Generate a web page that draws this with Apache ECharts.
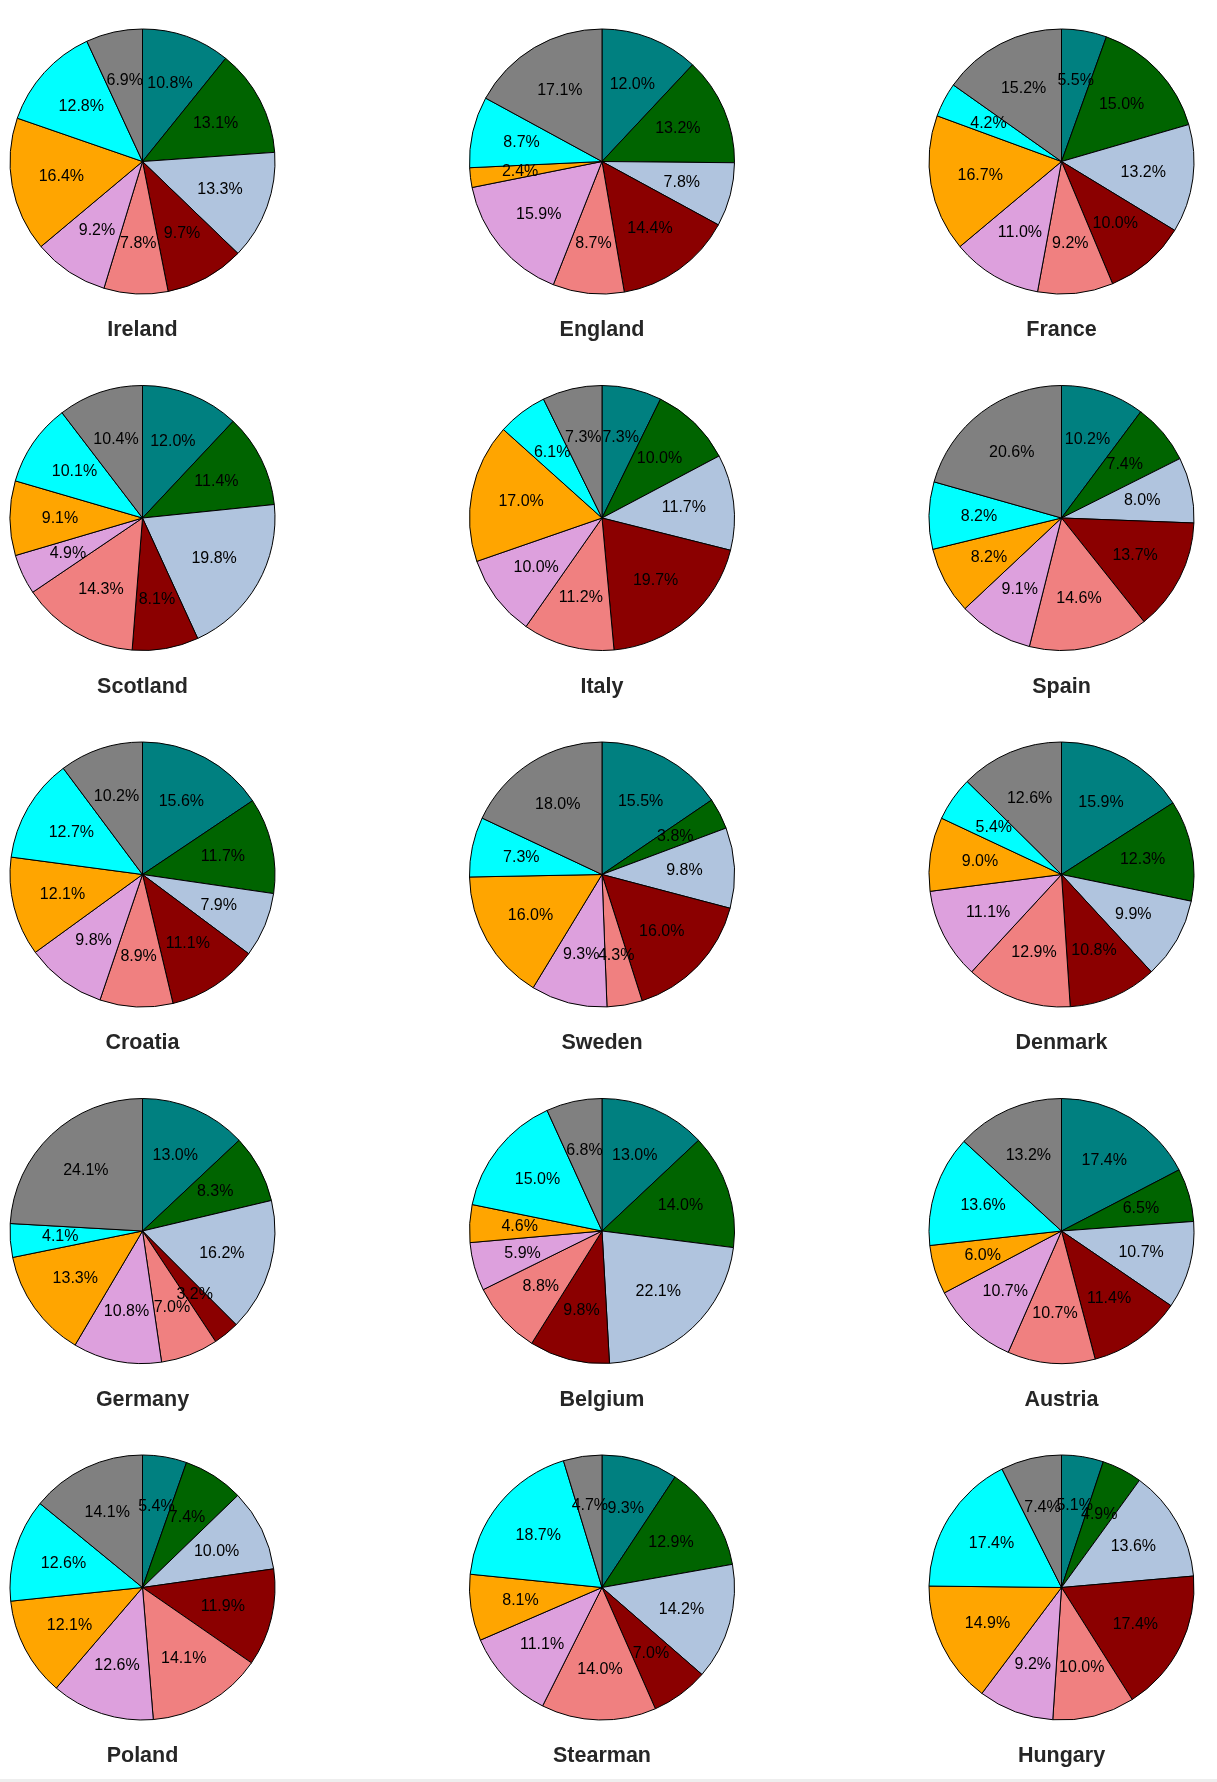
<!DOCTYPE html>
<html><head><meta charset="utf-8">
<script src="https://cdn.jsdelivr.net/npm/echarts@6/dist/echarts.min.js"></script>
<style>html,body{margin:0;padding:0;background:#eeeeee;} #c{width:1217px;height:1779px;background:#ffffff;}</style>
</head><body><div id="c"></div>
<script>
// slice order is clockwise from 12 o'clock
const sliceColors = ['#008080','#006400','#B0C4DE','#8B0000','#F08080','#DDA0DD','#FFA500','#00FFFF','#808080'];
const countries = ['Ireland','England','France','Scotland','Italy','Spain','Croatia','Sweden','Denmark','Germany','Belgium','Austria','Poland','Stearman','Hungary'];
const ireland  = [10.8, 13.1, 13.3, 9.7, 7.8, 9.2, 16.4, 12.8, 6.9];
const england  = [12.0, 13.2, 7.8, 14.4, 8.7, 15.9, 2.4, 8.7, 17.1];
const france   = [5.5, 15.0, 13.2, 10.0, 9.2, 11.0, 16.7, 4.2, 15.2];
const scotland = [12.0, 11.4, 19.8, 8.1, 14.3, 4.9, 9.1, 10.1, 10.4];
const italy    = [7.3, 10.0, 11.7, 19.7, 11.2, 10.0, 17.0, 6.1, 7.3];
const spain    = [10.2, 7.4, 8.0, 13.7, 14.6, 9.1, 8.2, 8.2, 20.6];
const croatia  = [15.6, 11.7, 7.9, 11.1, 8.9, 9.8, 12.1, 12.7, 10.2];
const sweden   = [15.5, 3.8, 9.8, 16.0, 4.3, 9.3, 16.0, 7.3, 18.0];
const denmark  = [15.9, 12.3, 9.9, 10.8, 12.9, 11.1, 9.0, 5.4, 12.6];
const germany  = [13.0, 8.3, 16.2, 3.2, 7.0, 10.8, 13.3, 4.1, 24.1];
const belgium  = [13.0, 14.0, 22.1, 9.8, 8.8, 5.9, 4.6, 15.0, 6.8];
const austria  = [17.4, 6.5, 10.7, 11.4, 10.7, 10.7, 6.0, 13.6, 13.2];
const poland   = [5.4, 7.4, 10.0, 11.9, 14.1, 12.6, 12.1, 12.6, 14.1];
const stearman = [9.3, 12.9, 14.2, 7.0, 14.0, 11.1, 8.1, 18.7, 4.7];
const hungary  = [5.1, 4.9, 13.6, 17.4, 10.0, 9.2, 14.9, 17.4, 7.4];
const allValues = [ireland, england, france, scotland, italy, spain, croatia, sweden, denmark, germany, belgium, austria, poland, stearman, hungary];

const colX = [142.5, 602, 1061.5];
const rowY = [161.5, 518, 874.5, 1231, 1587.5];
const R = 132.5;
const titleOffset = 169;

const series = [];
const graphics = [];
allValues.forEach((vals, i) => {
  const cx = colX[i % 3], cy = rowY[Math.floor(i / 3)];
  const data = vals.map((v, k) => ({ value: v, itemStyle: { color: sliceColors[k] } }));
  series.push({
    type: 'pie', center: [cx, cy], radius: [0, R], startAngle: 90, clockwise: true,
    silent: true, animation: false, avoidLabelOverlap: false,
    label: { show: false }, labelLine: { show: false },
    itemStyle: { borderColor: '#000', borderWidth: 1 },
    emphasis: { disabled: true },
    data: data
  });
  series.push({
    type: 'pie', center: [cx, cy], radius: [0.2 * R, R], startAngle: 90, clockwise: true,
    silent: true, animation: false, avoidLabelOverlap: false, minShowLabelAngle: 0,
    itemStyle: { color: 'rgba(0,0,0,0)', borderWidth: 0 },
    label: { show: true, position: 'inside', color: '#000', fontSize: 16,
      fontFamily: 'Liberation Sans, Arial, sans-serif', overflow: 'none',
      formatter: p => p.value.toFixed(1) + '%' },
    labelLayout: { hideOverlap: false },
    labelLine: { show: false },
    emphasis: { disabled: true },
    data: vals.map(v => ({ value: v }))
  });
  graphics.push({
    type: 'text', x: cx, y: cy + titleOffset, silent: true,
    style: { text: countries[i], fill: '#262626', font: 'bold 21.5px "Liberation Sans", Arial, sans-serif',
      textAlign: 'center', textVerticalAlign: 'middle' }
  });
});

const chart = echarts.init(document.getElementById('c'), null, { renderer: 'canvas' });
chart.setOption({ animation: false, backgroundColor: '#ffffff', series: series, graphic: graphics });
</script></body></html>
